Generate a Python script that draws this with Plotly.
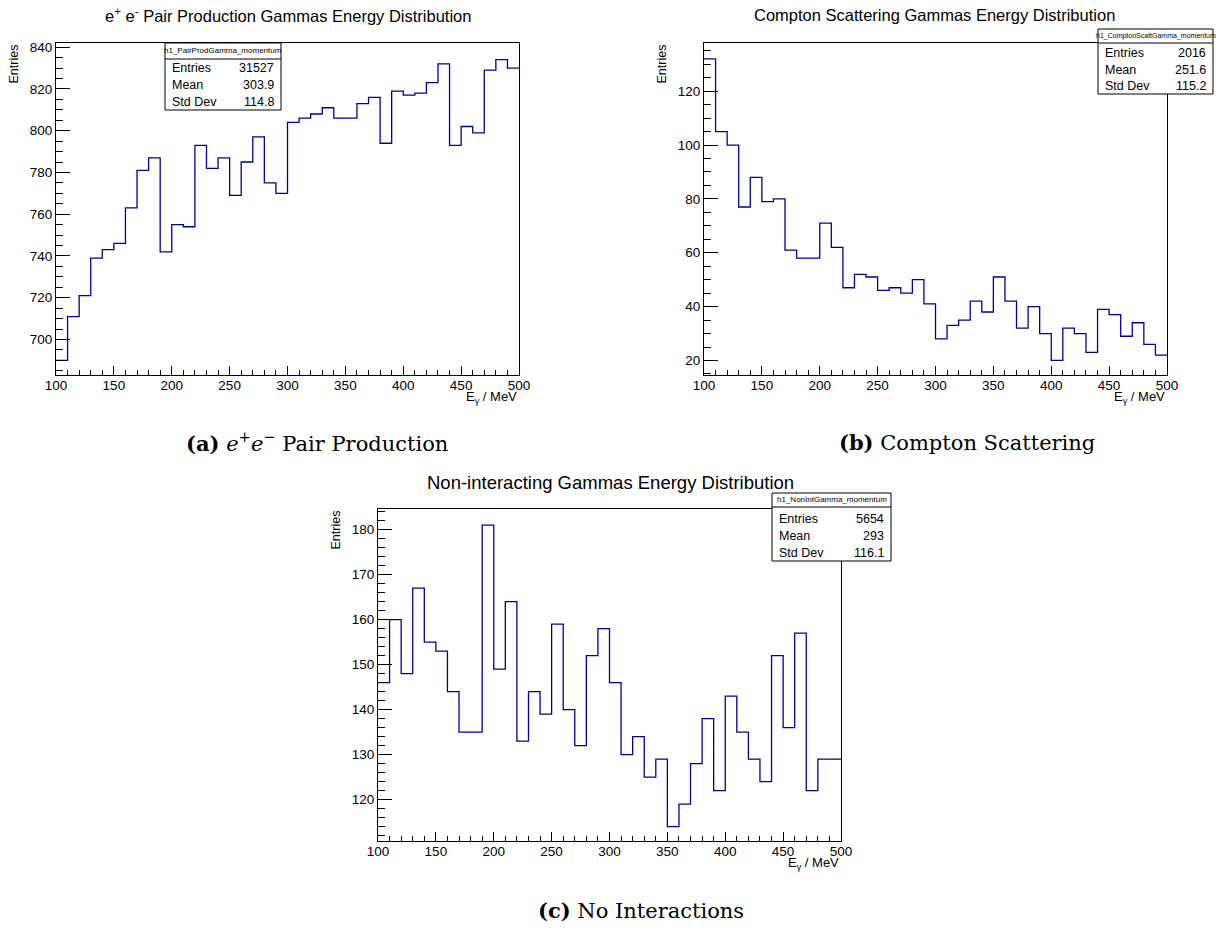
import plotly.graph_objects as go

# Canvas size in pixels
W, H = 1221, 930

# ---------------------------------------------------------------- data
bin_edges = list(range(100, 510, 10))  # 40 bins of 10 MeV, 100 - 500 MeV

pair_prod_counts = [690, 711, 721, 739, 743, 746, 763, 781, 787, 742,
                    755, 754, 793, 782, 787, 769, 785, 797, 775, 770,
                    804, 806, 808, 811, 806, 806, 813, 816, 794, 819,
                    817, 818, 823, 832, 793, 802, 799, 829, 834, 830]

compton_counts = [132, 105, 100, 77, 88, 79, 80, 61, 58, 58,
                  71, 62, 47, 52, 51, 46, 47, 45, 50, 41,
                  28, 33, 35, 42, 38, 51, 42, 32, 40, 30,
                  20, 32, 30, 23, 39, 37, 29, 34, 26, 22]

nonint_counts = [146, 160, 148, 167, 155, 153, 144, 135, 135, 181,
                 149, 164, 133, 144, 139, 159, 140, 132, 152, 158,
                 146, 130, 134, 125, 129, 114, 119, 128, 138, 122,
                 143, 135, 129, 124, 152, 136, 157, 122, 129, 129]

hist_names = ["h1_PairProdGamma_momentum",
              "h1_ComptonScattGamma_momentum",
              "h1_NonIntGamma_momentum"]
stat_entries = ["31527", "2016", "5654"]
stat_means = ["303.9", "251.6", "293"]
stat_stddevs = ["114.8", "115.2", "116.1"]

titles = ["e<sup>+</sup> e<sup>-</sup> Pair Production Gammas Energy Distribution",
          "Compton Scattering Gammas Energy Distribution",
          "Non-interacting Gammas Energy Distribution"]
captions = ["<b>(a)</b> <i>e</i><sup>+</sup><i>e</i><sup>\u2212</sup> Pair Production",
            "<b>(b)</b> Compton Scattering",
            "<b>(c)</b> No Interactions"]

y_ranges = [[683, 842], [14.6, 137.9], [110.8, 184.6]]
y_dticks = [20, 20, 10]
y_minor_dticks = [5, 5, 2]

# ---------------------------------------------------------------- layout
SANS = "Liberation Sans, Arial, Helvetica, sans-serif"
SERIF = "DejaVu Serif, Georgia, serif"
LINE_BLUE = "#000099"


def fx(p):
    return p / W


def fy(p):
    return 1 - p / H


# frame boxes in pixels: left, right, top, bottom
frames = [(56, 519, 43, 375), (704, 1167, 43, 375), (378, 841, 509, 841)]
# title centre positions
title_pos = [(288, 15, 16.5), (935, 15, 16.5), (610, 482, 18.5)]
# stat boxes: left, right, top, divider, row centres, header size
stat_boxes = [
    (165, 281, 43, 59, (51, 68, 85, 102), 8),
    (1098, 1213, 29, 43, (36, 53, 70, 86), 7),
    (772, 891, 493, 507, (500, 519, 536, 553), 8),
]
caption_pos = [(317, 442), (967, 442), (641, 910)]

fig = go.Figure()
shapes = []
annotations = []
layout_axes = {}

count_sets = [pair_prod_counts, compton_counts, nonint_counts]

for i, counts in enumerate(count_sets):
    n = "" if i == 0 else str(i + 1)
    left, right, top, bottom = frames[i]

    fig.add_trace(go.Scatter(
        x=bin_edges,
        y=counts + [counts[-1]],
        mode="lines",
        line=dict(color=LINE_BLUE, width=1.3, shape="hv"),
        xaxis="x" + n, yaxis="y" + n,
        showlegend=False, hoverinfo="skip",
    ))

    layout_axes["xaxis" + n] = dict(
        domain=[fx(left), fx(right)], anchor="y" + n, automargin=False,
        range=[100, 500], tick0=100, dtick=50,
        showline=True, linecolor="black", linewidth=1, mirror=True,
        ticks="inside", ticklen=9, tickwidth=1, tickcolor="black",
        ticklabelstandoff=-2,
        minor=dict(ticks="inside", ticklen=5, dtick=10, tickwidth=1,
                   tickcolor="black", showgrid=False),
        showgrid=False, zeroline=False,
        tickfont=dict(family=SANS, size=13.5, color="black"),
    )
    layout_axes["yaxis" + n] = dict(
        domain=[fy(bottom), fy(top)], anchor="x" + n, automargin=False,
        range=y_ranges[i], tick0=0, dtick=y_dticks[i],
        showline=True, linecolor="black", linewidth=1, mirror=True,
        ticks="inside", ticklen=14, tickwidth=1, tickcolor="black",
        minor=dict(ticks="inside", ticklen=7, dtick=y_minor_dticks[i],
                   tickwidth=1, tickcolor="black", showgrid=False),
        showgrid=False, zeroline=False,
        tickfont=dict(family=SANS, size=13.5, color="black"),
    )

    # panel title
    tx, ty, tsize = title_pos[i]
    annotations.append(dict(
        text=titles[i], x=fx(tx), y=fy(ty), xref="paper", yref="paper",
        xanchor="center", yanchor="middle", showarrow=False,
        font=dict(family=SANS, size=tsize, color="black"),
    ))

    # axis titles
    annotations.append(dict(
        text="Entries", textangle=-90,
        x=fx(left - 43), y=fy(top), xref="paper", yref="paper",
        xanchor="center", yanchor="top", showarrow=False,
        font=dict(family=SANS, size=12.5, color="black"),
    ))
    annotations.append(dict(
        text="E<sub>\u03b3</sub> / MeV",
        x=fx(right), y=fy(bottom + 22), xref="paper", yref="paper",
        xanchor="right", yanchor="middle", showarrow=False,
        font=dict(family=SANS, size=13, color="black"),
    ))

    # statistics box
    bl, br, bt, bd, rows, hsize = stat_boxes[i]
    bb = rows[-1] + 8
    shapes.append(dict(
        type="rect", xref="paper", yref="paper",
        x0=fx(bl), x1=fx(br), y0=fy(bb), y1=fy(bt),
        line=dict(color="black", width=1), fillcolor="white", layer="above",
    ))
    shapes.append(dict(
        type="line", xref="paper", yref="paper",
        x0=fx(bl), x1=fx(br), y0=fy(bd), y1=fy(bd),
        line=dict(color="black", width=1), layer="above",
    ))
    annotations.append(dict(
        text=hist_names[i], x=fx((bl + br) / 2), y=fy(rows[0]),
        xref="paper", yref="paper", xanchor="center", yanchor="middle",
        showarrow=False, font=dict(family=SANS, size=hsize, color="black"),
    ))
    labels = ["Entries", "Mean", "Std Dev"]
    values = [stat_entries[i], stat_means[i], stat_stddevs[i]]
    for lab, val, ry in zip(labels, values, rows[1:]):
        annotations.append(dict(
            text=lab, x=fx(bl + 5), y=fy(ry), xref="paper", yref="paper",
            xanchor="left", yanchor="middle", showarrow=False,
            font=dict(family=SANS, size=12.5, color="black"),
        ))
        annotations.append(dict(
            text=val, x=fx(br - 5), y=fy(ry), xref="paper", yref="paper",
            xanchor="right", yanchor="middle", showarrow=False,
            font=dict(family=SANS, size=12.5, color="black"),
        ))

    # sub-figure caption
    cx, cy = caption_pos[i]
    annotations.append(dict(
        text=captions[i], x=fx(cx), y=fy(cy), xref="paper", yref="paper",
        xanchor="center", yanchor="middle", showarrow=False,
        font=dict(family=SERIF, size=21, color="black"),
    ))

fig.update_layout(
    width=W, height=H, autosize=False,
    margin=dict(l=0, r=0, t=0, b=0, pad=0),
    paper_bgcolor="white", plot_bgcolor="white",
    shapes=shapes, annotations=annotations,
    **layout_axes,
)

fig.write_html("out.html")
